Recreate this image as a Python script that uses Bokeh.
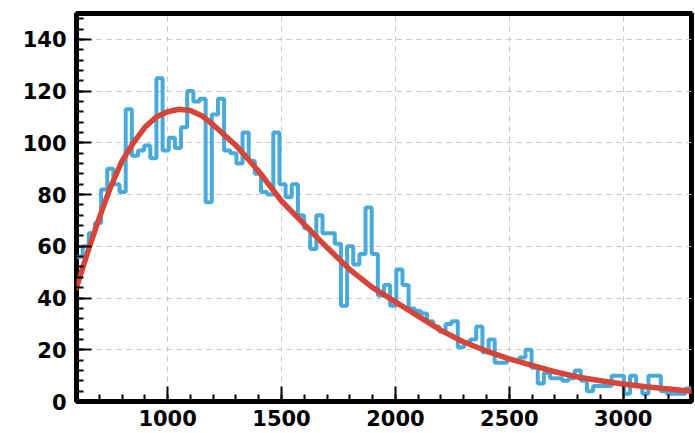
from bokeh.plotting import figure
from bokeh.embed import file_html
from bokeh.resources import INLINE
from bokeh.models import Range1d, SingleIntervalTicker

# Histogram: 100 bins from 600 to 3300
bin_start = 600
bin_width = 27
counts = [56, 60, 65, 69, 82, 90, 84, 81, 113, 95,
          97, 99, 94, 125, 97, 102, 98, 106, 120, 116,
          117, 77, 111, 117, 97, 96, 92, 104, 93, 88,
          81, 80, 104, 84, 79, 84, 72, 67, 59, 72,
          65, 65, 61, 37, 60, 53, 57, 75, 57, 41,
          45, 37, 51, 45, 36, 35, 34, 31, 29, 27,
          30, 31, 21, 23, 24, 29, 19, 24, 15, 15,
          16, 16, 17, 20, 13, 7, 11, 9, 9, 8,
          9, 12, 8, 4, 6, 6, 6, 10, 10, 3,
          10, 6, 3, 10, 10, 4, 3, 3, 3, 5]

# Fitted curve
fit_x = [600, 650, 700, 750, 800, 850, 900, 950, 1000, 1050, 1100, 1150, 1200,
         1300, 1400, 1500, 1600, 1700, 1800, 1900, 2000, 2100, 2200, 2300, 2400,
         2500, 2600, 2700, 2800, 2900, 3000, 3100, 3200, 3300]
fit_y = [44, 58, 71, 83, 93, 100, 106, 110, 112, 113, 112.5, 110.5, 107,
         99, 89, 77.5, 68.5, 59.5, 51, 44, 38.5, 33, 27.5, 23, 19.5,
         16.5, 14, 11.5, 9.5, 8, 6.8, 5.7, 4.8, 4]

x_min, x_max = 600, 3300
y_min, y_max = 0, 150

edges = [bin_start + bin_width * i for i in range(len(counts) + 1)]
step_y = counts + [counts[-1]]

p = figure(width=694, height=432, output_backend="svg", toolbar_location=None,
           x_range=Range1d(x_min, x_max), y_range=Range1d(y_min, y_max),
           min_border_left=76, min_border_right=3, min_border_top=13, min_border_bottom=31)

p.outline_line_color = "black"
p.outline_line_width = 5
p.background_fill_color = "white"
p.border_fill_color = "white"

p.xaxis.ticker = SingleIntervalTicker(interval=500, num_minor_ticks=5)
p.yaxis.ticker = SingleIntervalTicker(interval=20, num_minor_ticks=5)

for ax in (p.xaxis, p.yaxis):
    ax.axis_line_color = None
    ax.major_tick_in = 15
    ax.major_tick_out = 0
    ax.minor_tick_in = 7
    ax.minor_tick_out = 0
    ax.major_tick_line_width = 2
    ax.minor_tick_line_width = 2
    ax.major_tick_line_color = "black"
    ax.minor_tick_line_color = "black"
    ax.major_label_text_font = "DejaVu Sans"
    ax.major_label_text_font_style = "bold"
    ax.major_label_text_font_size = "21px"
    ax.major_label_text_color = "black"
p.xaxis.major_label_standoff = 8
p.yaxis.major_label_standoff = 10

p.grid.grid_line_color = "#c4c4c4"
p.grid.grid_line_dash = "5 5"
p.grid.grid_line_width = 1

p.step(edges, step_y, mode="after", line_color="#48aadb", line_width=4)
p.line(fit_x, fit_y, line_color="#d6453a", line_width=5.5, line_cap="round", line_join="round")

open("out.html", "w").write(file_html(p, INLINE))
